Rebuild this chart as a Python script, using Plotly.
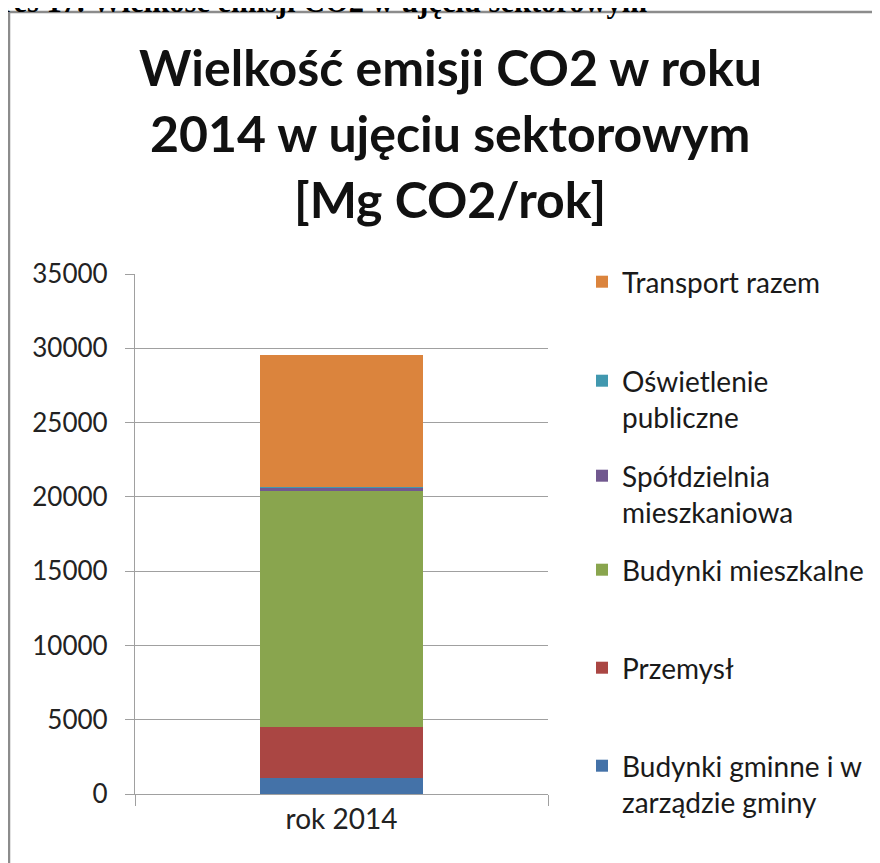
import plotly.graph_objects as go

# dane wykresu
kategorie = ["rok 2014"]
sektory = [
    "Budynki gminne i w<br>zarządzie gminy",
    "Przemysł",
    "Budynki mieszkalne",
    "Spółdzielnia<br>mieszkaniowa",
    "Oświetlenie<br>publiczne",
    "Transport razem",
]
emisja = [1050, 3440, 15920, 220, 60, 8860]
kolory = ["#4472A8", "#AA4643", "#89A54E", "#71588F", "#4198AF", "#DB843D"]
y_ticks = [0, 5000, 10000, 15000, 20000, 25000, 30000, 35000]

# strona ma 8 px marginesu body, więc figura jest przesunięta
OFF = 8
W, H = 880 - OFF, 863 - OFF
L, T = 135 - OFF, 274 - OFF
R = W - (548 - OFF)
B = H - (794 - OFF)
pw, ph = W - L - R, H - T - B


def px(x):  # współrzędna ekranu -> paper
    return (x - OFF - L) / pw


def py(y):
    return (H - B - (y - OFF)) / ph


FONT = "Lato"
GRID = "#A0A0A0"

fig = go.Figure()

# legenda: każda pozycja osobno, żeby odtworzyć odstępy z Excela
leg_top = [283, 382, 477, 571, 669, 767]  # środki pierwszych linii, od góry
for i, (name, val, col) in enumerate(zip(sektory, emisja, kolory)):
    idx = len(sektory) - 1 - i
    lname = "legend" if idx == 0 else f"legend{idx + 1}"
    fig.add_trace(go.Bar(
        x=kategorie, y=[val], name=name, marker_color=col,
        marker_line_width=0, legend=lname,
    ))

legends = {}
for idx in range(len(sektory)):
    lname = "legend" if idx == 0 else f"legend{idx + 1}"
    legends[lname] = dict(
        x=px(582), xanchor="left",
        y=py(leg_top[idx] - 26), yanchor="top",
        valign="top", itemwidth=30,
        font=dict(family=FONT, size=28, color="#1a1a1a"),
        bgcolor="rgba(0,0,0,0)",
    )

fig.update_layout(
    width=W, height=H,
    margin=dict(l=L, r=R, t=T, b=B, autoexpand=False),
    paper_bgcolor="white", plot_bgcolor="white",
    barmode="stack", bargap=0.603,
    showlegend=True,
    **legends,
)

fig.update_yaxes(
    range=[0, 35000], tickvals=y_ticks, tickformat="d", showgrid=True,
    gridcolor=GRID, gridwidth=1.3, zeroline=False,
    showline=True, linecolor=GRID, linewidth=1.3,
    ticks="outside", ticklen=9, tickcolor=GRID, tickwidth=1.3,
    ticklabelstandoff=12,
    tickfont=dict(family=FONT, size=26, color="#222222"),
)
fig.update_xaxes(
    showline=True, linecolor=GRID, linewidth=1.3,
    ticks="outside", tickson="boundaries", ticklen=11,
    tickcolor=GRID, tickwidth=1.3, showgrid=False,
    tickfont=dict(family=FONT, size=28, color="#222222"),
)

# tytuł wykresu
title_lines = ["Wielkość emisji CO2 w roku", "2014 w ujęciu sektorowym", "[Mg CO2/rok]"]
for line, base in zip(title_lines, [87, 153, 219]):
    fig.add_annotation(
        text=line, xref="paper", yref="paper", x=px(450), y=py(base - 20),
        xanchor="center", yanchor="middle", showarrow=False,
        font=dict(family=FONT, size=50, color="#111111", weight="bold"),
    )

# ucięty podpis nad wykresem
fig.add_annotation(
    text="Wykres 17. Wielkość emisji CO2 w ujęciu sektorowym",
    xref="paper", yref="paper", x=px(-63), y=py(2),
    xanchor="left", yanchor="middle", showarrow=False,
    font=dict(family="Liberation Serif", size=30.5, color="#000000", weight="bold"),
)

# ramka obszaru wykresu
fig.add_shape(
    type="rect", xref="paper", yref="paper",
    x0=px(9), x1=px(895), y0=py(880), y1=py(12),
    line=dict(color="#8C8C8C", width=2.5), fillcolor="rgba(0,0,0,0)",
    layer="below",
)

fig.write_html("out.html")
